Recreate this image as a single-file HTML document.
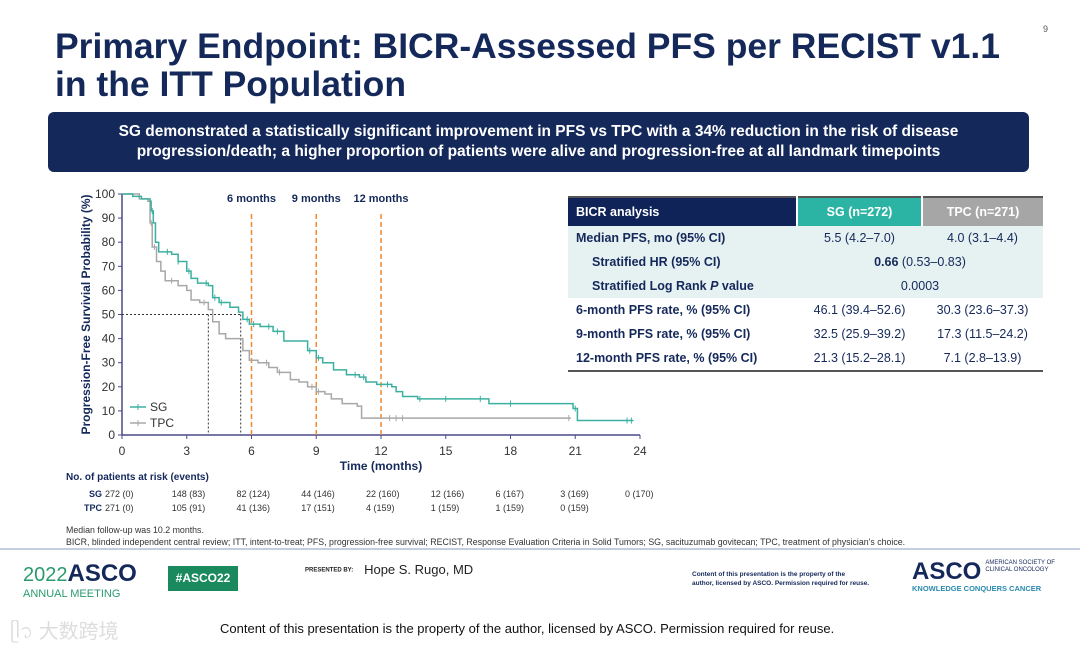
<!DOCTYPE html>
<html><head><meta charset="utf-8">
<style>
body{margin:0;width:1080px;height:648px;background:#fff;font-family:"Liberation Sans",sans-serif;position:relative;overflow:hidden}
.abs{position:absolute}
#title{left:55px;top:27px;font-size:35.5px;font-weight:bold;color:#14285a;line-height:38px;white-space:nowrap}
#banner{left:48px;top:112px;width:981px;height:60px;background:#14285a;border-radius:6px;color:#fff;font-weight:bold;font-size:15.5px;text-align:center;line-height:20px;display:flex;align-items:center;justify-content:center}
table{border-collapse:collapse;font-size:12.5px;color:#14285a}
td{height:24px;padding:0}
</style></head><body>
<div class="abs" style="left:1043px;top:24px;font-size:9px;color:#555">9</div>
<div id="title" class="abs">Primary Endpoint: BICR-Assessed PFS per RECIST v1.1<br>in the ITT Population</div>
<div id="banner" class="abs">SG demonstrated a statistically significant improvement in PFS vs TPC with a 34% reduction in the risk of disease<br>progression/death; a higher proportion of patients were alive and progression-free at all landmark timepoints</div>

<svg class="abs" style="left:0;top:0" width="1080" height="648" id="chart"></svg>

<table class="abs" style="left:568px;top:196px;width:475px">
<tr style="height:29px;border-top:2px solid #555"><td style="background:#0f2358;color:#fff;font-weight:bold;padding-left:8px;width:220px">BICR analysis</td><td style="background:#2bb3a3;color:#fff;font-weight:bold;text-align:center;width:123px;border-left:2px solid #fff">SG (n=272)</td><td style="background:#a6a6a6;color:#fff;font-weight:bold;text-align:center;border-left:2px solid #fff">TPC (n=271)</td></tr>
<tr style="background:#e6f1f2"><td style="font-weight:bold;padding-left:8px">Median PFS, mo (95% CI)</td><td style="text-align:center">5.5 (4.2–7.0)</td><td style="text-align:center">4.0 (3.1–4.4)</td></tr>
<tr style="background:#e6f1f2"><td style="font-weight:bold;padding-left:24px">Stratified HR (95% CI)</td><td colspan="2" style="text-align:center"><b>0.66</b> (0.53–0.83)</td></tr>
<tr style="background:#e6f1f2"><td style="font-weight:bold;padding-left:24px">Stratified Log Rank <i>P</i> value</td><td colspan="2" style="text-align:center">0.0003</td></tr>
<tr><td style="font-weight:bold;padding-left:8px">6-month PFS rate, % (95% CI)</td><td style="text-align:center">46.1 (39.4–52.6)</td><td style="text-align:center">30.3 (23.6–37.3)</td></tr>
<tr><td style="font-weight:bold;padding-left:8px">9-month PFS rate, % (95% CI)</td><td style="text-align:center">32.5 (25.9–39.2)</td><td style="text-align:center">17.3 (11.5–24.2)</td></tr>
<tr style="border-bottom:2px solid #555"><td style="font-weight:bold;padding-left:8px">12-month PFS rate, % (95% CI)</td><td style="text-align:center">21.3 (15.2–28.1)</td><td style="text-align:center">7.1 (2.8–13.9)</td></tr>
</table>

<div class="abs" style="left:66px;top:524px;font-size:8.8px;color:#333;line-height:12px;white-space:nowrap">Median follow-up was 10.2 months.<br>BICR, blinded independent central review; ITT, intent-to-treat; PFS, progression-free survival; RECIST, Response Evaluation Criteria in Solid Tumors; SG, sacituzumab govitecan; TPC, treatment of physician's choice.</div>
<div class="abs" style="left:0;top:548px;width:1080px;height:2px;background:#c5cde0"></div>
<div class="abs" style="left:23px;top:562px;color:#14285a;font-size:24px;font-weight:bold;line-height:24px"><span style="color:#2a9b6e;font-weight:normal;font-size:20px">2022</span>ASCO<div style="font-size:11px;color:#2a9b6e;font-weight:normal;line-height:14px">ANNUAL MEETING</div></div>
<div class="abs" style="left:168px;top:566px;width:70px;height:25px;background:#1a8a5e;color:#fff;font-size:12px;font-weight:bold;text-align:center;line-height:25px">#ASCO22</div>
<div class="abs" style="left:305px;top:562px;font-size:13px;color:#222"><span style="font-size:6px;font-weight:bold;vertical-align:middle">PRESENTED BY:</span>&nbsp;&nbsp; Hope S. Rugo, MD</div>
<div class="abs" style="left:692px;top:570px;font-size:6.5px;color:#14285a;line-height:9px;font-weight:bold">Content of this presentation is the property of the<br>author, licensed by ASCO. Permission required for reuse.</div>
<div class="abs" style="left:912px;top:560px;color:#14285a;font-size:24px;font-weight:bold;line-height:24px">ASCO<span style="font-size:6px;font-weight:normal;vertical-align:top;line-height:7px;display:inline-block;margin-left:4px">AMERICAN SOCIETY OF<br>CLINICAL ONCOLOGY</span><div style="font-size:7.5px;color:#2a8ab0;line-height:10px">KNOWLEDGE CONQUERS CANCER</div></div>
<div class="abs" style="left:10px;top:615px;font-size:20px;color:#ddd;font-family:'Liberation Sans','Noto Sans CJK SC',sans-serif">ᥫ᭡ 大数跨境</div>
<div class="abs" style="left:220px;top:621px;font-size:13px;color:#111">Content of this presentation is the property of the author, licensed by ASCO. Permission required for reuse.</div>

<script>
const xTicks=[0,3,6,9,12,15,18,21,24];
const yTicks=[0,10,20,30,40,50,60,70,80,90,100];
const landmarks=[6,9,12];
const medians=[5.5,4.0];
const sgT=[0,0.5,0.9,1.3,1.35,1.45,1.55,1.7,2.3,2.6,3.0,3.2,3.5,4.0,4.2,4.5,5.0,5.4,5.6,5.9,6.4,7.0,7.5,8.3,8.6,9.0,9.3,9.8,10.4,11.0,11.3,11.8,12.5,12.7,13.0,13.7,17.0,20.8,20.9,21.1];
const sgS=[100,99,98,97,93,88,80,76,75,72,68,65,63,62,57,55,53,51,48,46,45,43,39,39,35,32,30,27,25,24,22,21,20,18,16,15,13,13,11,6];
const sgEnd=23.7;
const tpcT=[0,0.8,1.2,1.3,1.4,1.6,1.8,2.0,2.6,3.0,3.2,3.6,4.0,4.2,4.5,4.8,5.5,5.6,5.9,6.3,6.8,7.2,7.8,8.2,8.6,9.0,9.4,9.7,10.2,10.9,11.1];
const tpcS=[100,98,97,88,78,72,68,64,62,60,56,55,52,47,42,40,40,35,31,30,28,26,23,22,20,18,17,15,13,12,7];
const tpcEnd=20.8;
const sgCens=[1.4,2.1,2.6,3.1,3.9,4.3,4.6,5.8,6.1,6.8,7.2,8.7,9.1,10.8,11.2,12.3,13.8,15.0,16.6,18.0,21.0,23.4,23.6];
const tpcCens=[1.35,1.5,2.3,3.8,6.7,7.3,8.8,9.1,12.4,12.7,13.0,20.7];
const riskTimes=[0,3,6,9,12,15,18,21,24];
const sgRisk=["272 (0)","148 (83)","82 (124)","44 (146)","22 (160)","12 (166)","6 (167)","3 (169)","0 (170)"];
const tpcRisk=["271 (0)","105 (91)","41 (136)","17 (151)","4 (159)","1 (159)","1 (159)","0 (159)",""];

const svg=document.getElementById('chart');
const NS='http://www.w3.org/2000/svg';
const X=t=>122+t*(640-122)/24;
const Y=p=>435-p*(435-194)/100;
function el(tag,attrs,txt){const e=document.createElementNS(NS,tag);for(const k in attrs)e.setAttribute(k,attrs[k]);if(txt!==undefined)e.textContent=txt;svg.appendChild(e);return e;}
function survAt(T,S,t){let s=S[0];for(let i=0;i<T.length;i++){if(T[i]<=t)s=S[i];}return s;}
const ax='#4a4a8a';
let e=el('line',{x1:X(0),y1:Y(0),x2:X(24),y2:Y(0),stroke:ax,'stroke-width':1.5});


e=el('line',{x1:X(0),y1:Y(0),x2:X(0),y2:Y(100),stroke:ax,'stroke-width':1.5});


xTicks.forEach(t=>{el('line',{x1:X(t),y1:Y(0),x2:X(t),y2:Y(0)+4,stroke:ax});
 e=el('text',{x:X(t),y:455,'font-size':12,fill:'#333','text-anchor':'middle'},t);
 
 });
yTicks.forEach(p=>{el('line',{x1:X(0)-4,y1:Y(p),x2:X(0),y2:Y(p),stroke:ax});
 e=el('text',{x:X(0)-7,y:Y(p)+4,'font-size':12,fill:'#333','text-anchor':'end'},p);
 
 });
e=el('text',{x:X(12),y:470,'font-size':12,'font-weight':'bold',fill:'#14285a','text-anchor':'middle'},'Time (months)');


e=el('text',{x:0,y:0,'font-size':12,'font-weight':'bold',fill:'#14285a','text-anchor':'middle',transform:`translate(90,${Y(50)}) rotate(-90)`},'Progression-Free Survivial Probability (%)');


landmarks.forEach(t=>{e=el('line',{x1:X(t),y1:Y(0),x2:X(t),y2:Y(92.5),stroke:'#f08a30','stroke-width':1.5,'stroke-dasharray':'5,3'});
 
 
 e=el('text',{x:X(t),y:202,'font-size':11,'font-weight':'bold',fill:'#14285a','text-anchor':'middle'},t+' months');
 
 });
e=el('line',{x1:X(0),y1:Y(50),x2:X(Math.max(...medians)),y2:Y(50),stroke:'#333','stroke-dasharray':'2,2'});


medians.forEach(m=>{e=el('line',{x1:X(m),y1:Y(50),x2:X(m),y2:Y(0),stroke:'#334','stroke-dasharray':'2,2'});
 
 });
function step(T,S,end){let d=`M${X(T[0])},${Y(S[0])}`;for(let i=1;i<T.length;i++){d+=`H${X(T[i])}V${Y(S[i])}`;}d+=`H${X(end)}`;return d;}
e=el('path',{d:step(tpcT,tpcS,tpcEnd),fill:'none',stroke:'#a8a8a8','stroke-width':1.5});


tpcCens.forEach(t=>{const y=Y(survAt(tpcT,tpcS,t));e=el('line',{x1:X(t),y1:y-3,x2:X(t),y2:y+3,stroke:'#a8a8a8'});
 
 });
e=el('path',{d:step(sgT,sgS,sgEnd),fill:'none',stroke:'#3bb0a0','stroke-width':1.5});


sgCens.forEach(t=>{const y=Y(survAt(sgT,sgS,t));e=el('line',{x1:X(t),y1:y-3,x2:X(t),y2:y+3,stroke:'#3bb0a0'});
 
 });
[['SG','#3bb0a0',407],['TPC','#a8a8a8',423]].forEach(([n,c,y])=>{
 e=el('line',{x1:130,y1:y,x2:146,y2:y,stroke:c,'stroke-width':1.5});
 
 
 el('line',{x1:138,y1:y-3,x2:138,y2:y+3,stroke:c});
 e=el('text',{x:150,y:y+4,'font-size':12,fill:'#333'},n);
 
 });
e=el('text',{x:66,y:480,'font-size':10,'font-weight':'bold',fill:'#14285a'},'No. of patients at risk (events)');


[['SG',sgRisk,497],['TPC',tpcRisk,511]].forEach(([n,r,y])=>{
 e=el('text',{x:102,y:y,'font-size':9,'font-weight':'bold',fill:'#14285a','text-anchor':'end'},n);
 
 
 r.forEach((v,i)=>{const x=i==0?105:X(riskTimes[i])-15;
  e=el('text',{x:x,y:y,'font-size':9,fill:'#333'},v);
  
  });});
</script>
</body></html>
